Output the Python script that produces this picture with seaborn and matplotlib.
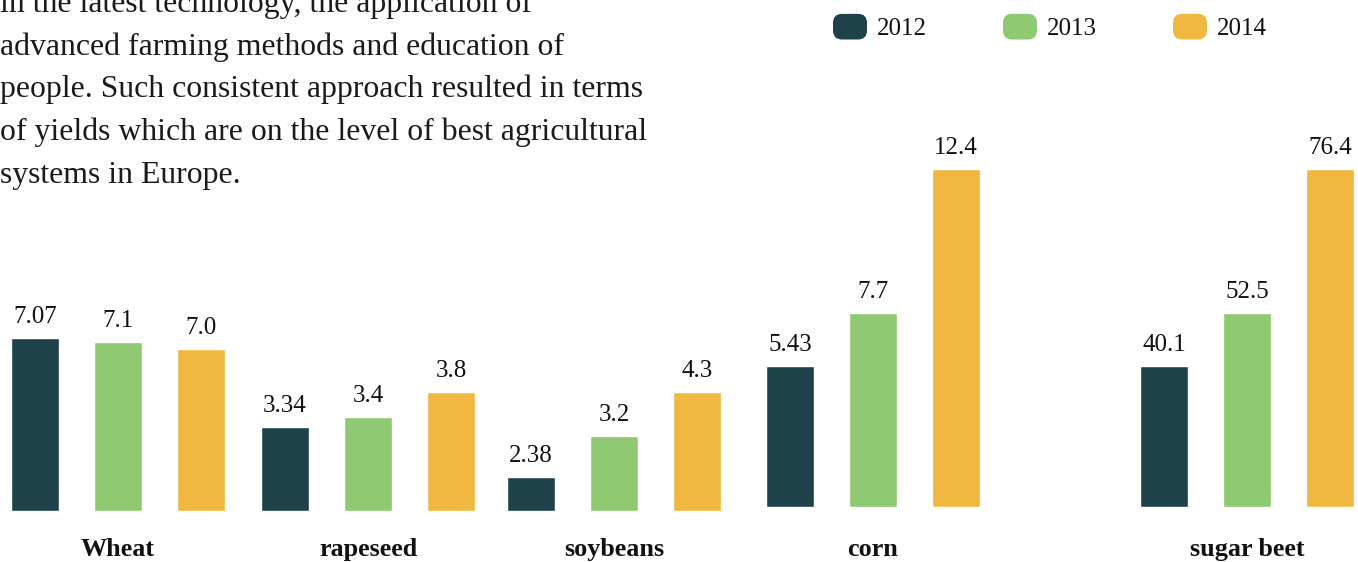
import matplotlib
matplotlib.use("Agg")
import matplotlib.pyplot as plt
import matplotlib.transforms as mtransforms
from matplotlib.patches import FancyBboxPatch, Patch
from matplotlib.legend_handler import HandlerPatch
import seaborn as sns
import pandas as pd

# ---------------- data ----------------
crops = ["Wheat", "rapeseed", "soybeans", "corn", "sugar beet"]
years = ["2012", "2013", "2014"]
# value labels as printed on the chart
labels_2012 = ["7.07", "3.34", "2.38", "5.43", "40.1"]
labels_2013 = ["7.1", "3.4", "3.2", "7.7", "52.5"]
labels_2014 = ["7.0", "3.8", "4.3", "12.4", "76.4"]
# displayed bar heights (the chart draws them on its own visual scale)
height_2012 = [173, 84, 34, 141, 141]
height_2013 = [169, 94, 75, 194, 194]
height_2014 = [162, 119, 119, 338, 338]
paragraph = [
    "in the latest technology, the application of",
    "advanced farming methods and education of",
    "people. Such consistent approach resulted in terms",
    "of yields which are on the level of best agricultural",
    "systems in Europe.",
]

colors = {"2012": "#1F424A", "2013": "#8FC971", "2014": "#F0B841"}

rows = []
for i, c in enumerate(crops):
    for y, h, l in zip(years, [height_2012, height_2013, height_2014],
                       [labels_2012, labels_2013, labels_2014]):
        rows.append({"crop": c, "year": y, "height": h[i], "label": l[i]})
df = pd.DataFrame(rows)

# ---------------- layout ----------------
W, H = 1358, 562
sns.set_theme(style="white")
plt.rcParams["font.family"] = ["Liberation Serif", "DejaVu Serif"]

fig = plt.figure(figsize=(W / 100, H / 100), dpi=100)

group_center = [118, 368, 614, 873, 1247]   # px, middle bar centre
baseline = [511, 511, 511, 507, 507]        # px from top
unit_px = 83 / (0.8 / 3)                    # px per category unit
half = 0.4

for i, c in enumerate(crops):
    ax_w = 2 * half * unit_px
    left = (group_center[i] - ax_w / 2) / W
    bottom = (H - baseline[i]) / H
    ax = fig.add_axes([left, bottom, ax_w / W, baseline[i] / H])
    ax.patch.set_alpha(0)
    sub = df[df.crop == c]
    sns.barplot(data=sub, x="crop", y="height", hue="year", hue_order=years,
                palette=colors, width=0.8, gap=0.42, saturation=1,
                legend=False, ax=ax, errorbar=None)
    ax.set_xlim(-half, half)
    ax.set_ylim(0, baseline[i])
    for cont, yr in zip(ax.containers, years):
        lab = sub[sub.year == yr]["label"].tolist()
        ax.bar_label(cont, labels=lab, padding=7.5, fontsize=18,
                     color="#111111", clip_on=False)
    ax.set_axis_off()
    tr = mtransforms.blended_transform_factory(ax.transData, fig.transFigure)
    ax.text(0, 1 - 556 / H, c, transform=tr, ha="center", va="baseline",
            fontsize=18.8, fontweight="bold", color="#111111")

# paragraph text (first line runs off the top edge, as in the source)
for k, line in enumerate(paragraph):
    fig.text(0.5 / W, 1 - (12 + 42.7 * k) / H, line, ha="left",
             va="baseline", fontsize=22.9, color="#1a1a1a")

# legend with rounded squares
class RoundHandler(HandlerPatch):
    def create_artists(self, legend, orig_handle, xdescent, ydescent,
                       width, height, fontsize, trans):
        p = FancyBboxPatch((-xdescent + 3, -ydescent + 3), width - 6, height - 6,
                           boxstyle="round,pad=3,rounding_size=6.5",
                           facecolor=orig_handle.get_facecolor(),
                           edgecolor="none", transform=trans)
        return [p]

handles = [Patch(facecolor=colors[y]) for y in years]
fs = 18
fpx = fs * 100 / 72
leg = fig.legend(handles, years, loc="center left",
                 bbox_to_anchor=(833 / W, 1 - 27 / H), ncol=3, frameon=False,
                 fontsize=fs, handlelength=34 / fpx, handleheight=30 / fpx,
                 handletextpad=10 / fpx, columnspacing=76 / fpx,
                 borderpad=0, borderaxespad=0,
                 handler_map={Patch: RoundHandler()})
for t in leg.get_texts():
    t.set_color("#111111")

fig.savefig("out.png", dpi=100)
